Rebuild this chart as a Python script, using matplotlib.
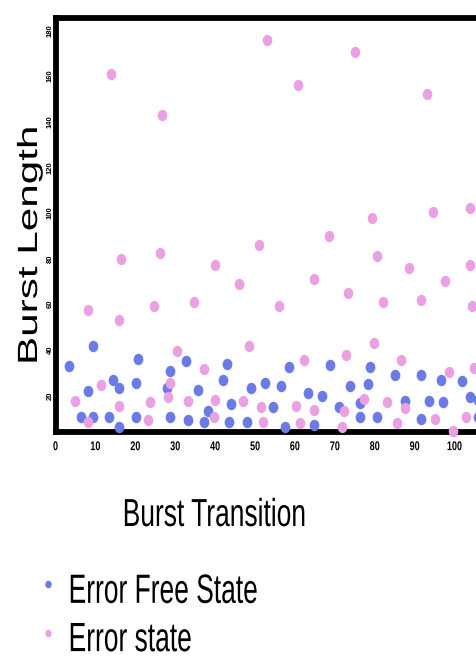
import matplotlib
matplotlib.use("Agg")
import matplotlib.pyplot as plt
from matplotlib.path import Path
from matplotlib.patheffects import AbstractPathEffect
from matplotlib.transforms import Affine2D
import numpy as np

# ---- data ----
free_x = [9.5, 3.5, 20.8, 32.6, 28.6, 14.3, 15.8, 20.3, 28.0, 8.2, 35.8, 6.3, 9.3, 13.3,
          20.3, 28.8, 33.3, 15.8, 43.1, 58.4, 68.7, 41.9, 48.9, 52.4, 56.4, 63.2, 66.9,
          43.9, 54.4, 38.3, 37.1, 43.6, 47.9, 57.4, 64.9, 71.0, 78.7, 85.0, 91.5, 96.5,
          102.0, 73.7, 78.4, 104.0, 76.4, 87.7, 93.7, 97.2, 76.4, 80.7, 91.7, 106.0, 106.0]
free_y = [41.7, 33.0, 36.0, 35.0, 30.7, 26.8, 23.2, 25.4, 23.2, 22.0, 22.4, 10.5, 10.5, 10.5,
          10.5, 10.5, 9.2, 6.1, 33.8, 32.5, 33.3, 26.8, 23.2, 25.4, 24.1, 21.0, 19.7,
          16.2, 14.9, 13.2, 8.3, 8.3, 8.3, 6.1, 7.0, 14.9, 32.5, 29.0, 29.0, 26.8,
          26.3, 24.1, 25.0, 19.3, 16.7, 17.5, 17.5, 17.1, 10.5, 10.5, 9.6, 18.0, 10.5]

err_x = [14.0, 26.7, 52.9, 16.3, 26.3, 39.9, 50.9, 46.1, 8.2, 16.0, 24.6, 34.8, 75.0, 60.8,
         93.0, 79.4, 94.5, 104.0, 68.6, 80.7, 88.5, 104.0, 64.7, 97.7, 73.2, 55.9, 82.0,
         91.7, 104.5,
         30.4, 11.5, 28.8, 4.8, 28.3, 15.8, 23.8, 33.3, 8.2, 23.3, 48.4, 37.3, 62.4, 40.1,
         47.1, 51.4, 60.2, 64.9, 39.8, 51.9, 61.4, 79.7, 72.9, 86.5, 98.7, 105.0, 72.4,
         77.4, 83.0, 87.7, 95.2, 103.0, 85.5, 71.7, 99.7]
err_y = [161.0, 143.0, 176.0, 80.0, 82.5, 77.0, 86.0, 69.0, 57.5, 53.0, 59.0, 61.0, 170.6, 156.0,
         152.0, 98.0, 100.4, 102.0, 90.0, 81.0, 76.0, 77.0, 71.0, 70.0, 65.0, 59.0, 61.0,
         62.0, 59.0,
         39.6, 24.6, 25.4, 17.5, 19.3, 15.4, 17.0, 17.5, 8.3, 9.2, 41.7, 31.6, 35.5, 18.0,
         17.5, 14.9, 15.4, 13.6, 10.5, 8.3, 7.9, 43.0, 37.7, 35.5, 30.3, 32.0, 13.2,
         18.4, 17.1, 14.5, 9.6, 10.5, 7.9, 6.1, 4.4]

x_ticks = [0, 10, 20, 30, 40, 50, 60, 70, 80, 90, 100]
y_ticks = [20, 40, 60, 80, 100, 120, 140, 160, 180]
series_labels = ["Error Free State", "Error state"]
x_title = "Burst Transition"
y_title = "Burst Length"

BLUE = "#6b7be6"
PINK = "#eaa0e2"
FONT = ["Liberation Sans", "DejaVu Sans"]


class Stretch(AbstractPathEffect):
    """Draw text glyphs scaled along their own axes (the reference is stretched)."""

    def __init__(self, sx=1.0, sy=1.0):
        super().__init__()
        self.sx, self.sy = sx, sy

    def draw_path(self, renderer, gc, tpath, affine, rgbFace=None):
        renderer.draw_path(gc, tpath, Affine2D().scale(self.sx, self.sy) + affine, rgbFace)


# slightly tall elliptical marker (reference is vertically stretched)
circ = Path.unit_circle()
ellipse = Path(circ.vertices * np.array([0.85, 1.0]), circ.codes)

W, H = 476, 657
fig = plt.figure(figsize=(W / 100, H / 100), dpi=100)

ax_left_px, ax_bottom_px, ax_top_px = 55.5, 432, 17.5
px_per_x = 3.99
xlim = (0, 120)
ylim = (3.95, 185.7)
ax_w_px = (xlim[1] - xlim[0]) * px_per_x
ax_h_px = ax_bottom_px - ax_top_px
ax = fig.add_axes([ax_left_px / W, (H - ax_bottom_px) / H, ax_w_px / W, ax_h_px / H])

h1 = ax.scatter(free_x, free_y, s=68, marker=ellipse, color=BLUE, linewidths=0,
                clip_on=False, zorder=3, label=series_labels[0])
h2 = ax.scatter(err_x, err_y, s=66, marker=ellipse, color=PINK, linewidths=0,
                clip_on=False, zorder=4, label=series_labels[1])

ax.set_xlim(*xlim)
ax.set_ylim(*ylim)
ax.set_xticks(x_ticks)
ax.set_yticks(y_ticks)
ax.set_xticklabels([str(t) for t in x_ticks], family=FONT, fontweight="bold", fontsize=6.5)
ax.set_yticklabels([str(t) for t in y_ticks], family=FONT, fontweight="bold", fontsize=5.5,
                   rotation=90, va="center")
ax.tick_params(axis="both", length=0)
ax.tick_params(axis="x", pad=8)
ax.tick_params(axis="y", pad=1.2)
for lbl in ax.get_xticklabels():
    lbl.set_path_effects([Stretch(sy=1.4)])

for sp in ax.spines.values():
    sp.set_linewidth(4.2)
    sp.set_color("black")
    sp.set_zorder(2)

ax.set_xlabel(x_title, family=FONT, fontsize=19, ha="center", va="baseline",
              path_effects=[Stretch(sy=1.48)])
ax.xaxis.set_label_coords((214.5 - ax_left_px) / ax_w_px, -(526 - ax_bottom_px) / ax_h_px)
ax.set_ylabel(y_title, family=FONT, fontsize=20, ha="left", va="baseline",
              rotation=90, rotation_mode="anchor", path_effects=[Stretch(sx=1.52)])
ax.yaxis.set_label_coords((37 - ax_left_px) / ax_w_px, (ax_bottom_px - 365) / ax_h_px)

leg = fig.legend(handles=[h1, h2], labels=series_labels, loc="center left",
                 bbox_to_anchor=(42.5 / W, (H - 620) / H), frameon=False,
                 prop={"family": FONT, "size": 19}, handlelength=0.4,
                 handletextpad=0.59, labelspacing=0.92, borderpad=0, borderaxespad=0,
                 markerscale=0.66, scatteryoffsets=[1.0])
for t in leg.get_texts():
    t.set_path_effects([Stretch(sy=1.55)])

fig.savefig("out.png", dpi=100)
